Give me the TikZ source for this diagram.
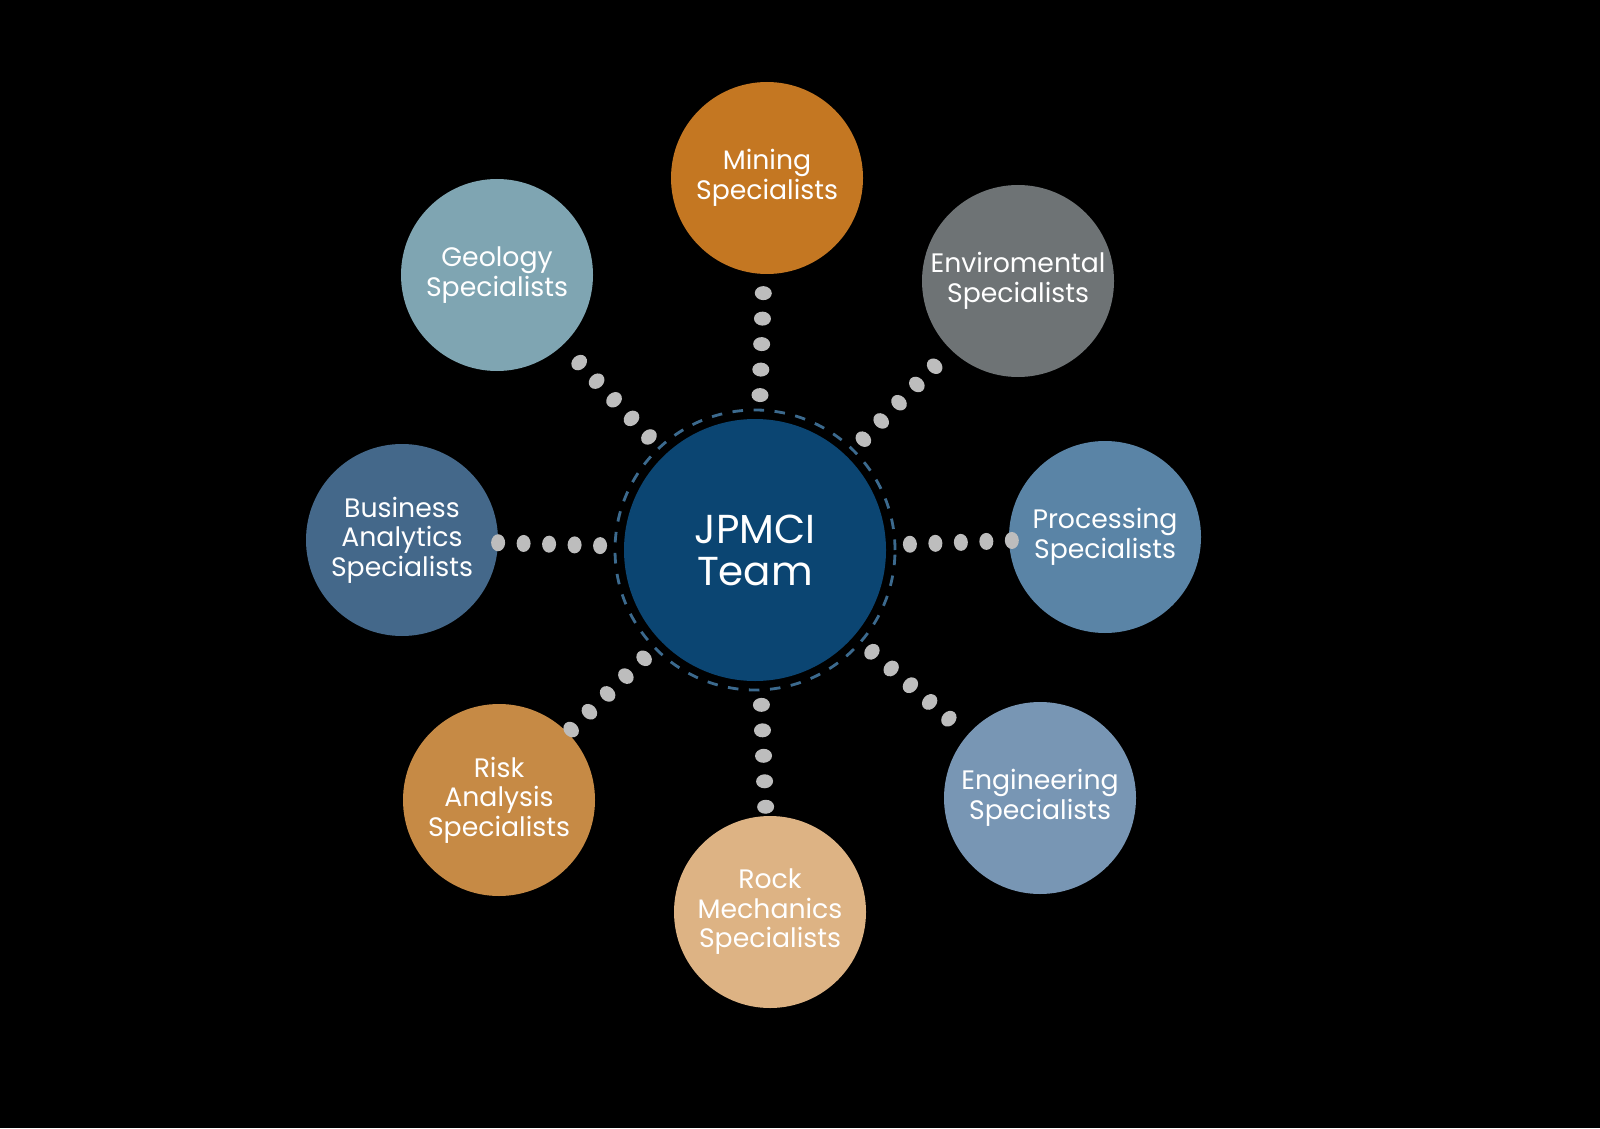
\documentclass[tikz,border=0pt]{standalone}
\usepackage{fontspec}
\setmainfont{Poppins}
\usetikzlibrary{calc,shapes.geometric}
\definecolor{hub}{HTML}{0B4572}
\definecolor{mining}{HTML}{C47722}
\definecolor{geology}{HTML}{7FA5B2}
\definecolor{enviro}{HTML}{6E7375}
\definecolor{business}{HTML}{44688A}
\definecolor{processing}{HTML}{5A84A6}
\definecolor{risk}{HTML}{C68A45}
\definecolor{rock}{HTML}{DDB384}
\definecolor{engineering}{HTML}{7896B4}
\definecolor{dotgray}{HTML}{BDBDBD}
\tikzset{
  team/.style={circle, minimum size=1.92cm, inner sep=0pt, text=white, align=center,
    font=\fontsize{7.6}{8.4}\selectfont},
  dot/.style={fill=dotgray, draw=none}
}
\begin{document}
\begin{tikzpicture}
  \fill[black] (0,0) rectangle (16,11.28);
  \useasboundingbox (0,0) rectangle (16,11.28);
  % hub
  \draw[hub!80!white, dashed, thick] (7.55,5.78) circle (1.40cm);
  \node[circle, fill=hub, minimum size=2.62cm, text=white, align=center,
    font=\fontsize{11.5}{12}\selectfont] (hub) at (7.55,5.78) {JPMCI\\Team};

  % specialists
  \node[team, fill=mining] (mining) at (7.67,9.50) {Mining\\Specialists};
  \node[team, fill=geology] (geology) at (4.97,8.53) {Geology\\Specialists};
  \node[team, fill=enviro] (enviro) at (10.18,8.47) {Enviromental\\Specialists};
  \node[team, fill=business] (business) at (4.02,5.88) {Business\\Analytics\\Specialists};
  \node[team, fill=processing] (processing) at (11.05,5.91) {Processing\\Specialists};
  \node[team, fill=risk] (risk) at (4.99,3.28) {Risk\\Analysis\\Specialists};
  \node[team, fill=rock] (rock) at (7.70,2.16) {Rock\\Mechanics\\Specialists};
  \node[team, fill=engineering] (engineering) at (10.40,3.30) {Engineering\\Specialists};

  % dotted links
  \foreach \s in {mining,geology,enviro,business,processing,risk,rock,engineering}
    \foreach \i in {0,...,4}
      \path let \p1=($(\s)-(hub)$), \n1={atan2(\y1,\x1)} in
        [dot] ($(hub)!{1.55cm+\i*0.255cm}!(\s)$) ellipse[x radius=0.07cm, y radius=0.085cm, rotate=\n1];
\end{tikzpicture}
\end{document}
